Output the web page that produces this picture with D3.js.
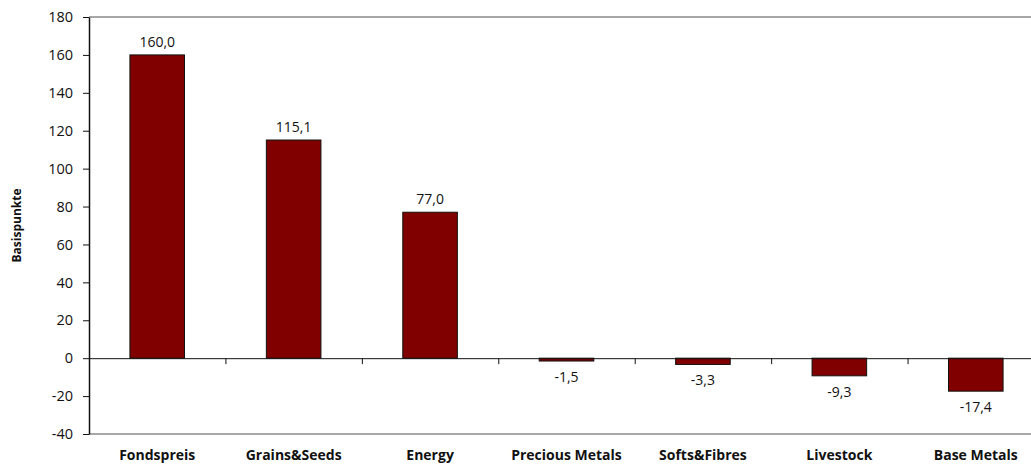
<!DOCTYPE html>
<html>
<head>
<meta charset="utf-8">
<script src="https://cdn.jsdelivr.net/npm/d3@7"></script>
<style>
    body { margin: 0; background: #fff; }
    svg text { font-family: "Open Sans", Lato, sans-serif; fill: #111; }
</style>
</head>
<body>
<div id="chart"></div>
<script>
const categories = ['Fondspreis', 'Grains&Seeds', 'Energy', 'Precious Metals', 'Softs&Fibres', 'Livestock', 'Base Metals'];
const values = [160.0, 115.1, 77.0, -1.5, -3.3, -9.3, -17.4];
const yTicks = [-40, -20, 0, 20, 40, 60, 80, 100, 120, 140, 160, 180];

const width = 1031, height = 465;
const margin = { top: 17, left: 89, bottom: 31 };
const plotRight = 1044; // plot area runs past the window edge

const svg = d3.select('#chart').append('svg')
    .attr('width', width)
    .attr('height', height);

const y = d3.scaleLinear()
    .domain([-40, 180])
    .range([height - margin.bottom, margin.top]);

const x = d3.scaleBand()
    .domain(categories)
    .range([margin.left, plotRight])
    .paddingInner(0.6)
    .paddingOuter(0.3);

// category boundaries for the tick marks on the zero line
const xIdx = d3.scaleLinear()
    .domain([0, categories.length])
    .range([margin.left, plotRight]);

// top and bottom border of the plot area
svg.append('g')
    .selectAll('line')
    .data([180, -40])
    .join('line')
    .attr('x1', margin.left)
    .attr('x2', plotRight)
    .attr('y1', d => y(d))
    .attr('y2', d => y(d))
    .attr('stroke', '#8a8a8a')
    .attr('stroke-width', 1.5);

// bars
svg.append('g')
    .selectAll('rect')
    .data(values)
    .join('rect')
    .attr('x', (d, i) => x(categories[i]))
    .attr('width', x.bandwidth())
    .attr('y', d => y(Math.max(0, d)))
    .attr('height', d => Math.abs(y(d) - y(0)))
    .attr('fill', '#800000')
    .attr('stroke', '#111')
    .attr('stroke-width', 1);

// value labels
svg.append('g')
    .selectAll('text')
    .data(values)
    .join('text')
    .attr('x', (d, i) => x(categories[i]) + x.bandwidth() / 2)
    .attr('y', d => d >= 0 ? y(d) - 8 : y(d) + 21)
    .attr('text-anchor', 'middle')
    .attr('font-size', 14)
    .text(d => d3.format('.1f')(d).replace('.', ',').replace('−', '-'));

// y axis
const yAxis = svg.append('g')
    .attr('transform', `translate(${margin.left},0)`)
    .call(d3.axisLeft(y).tickValues(yTicks).tickSize(6).tickPadding(10).tickSizeOuter(0)
        .tickFormat(d => d < 0 ? '-' + Math.abs(d) : d));
yAxis.select('.domain').attr('stroke', '#111').attr('stroke-width', 1.5);
yAxis.selectAll('.tick line').attr('stroke', '#111');
yAxis.selectAll('.tick text').attr('font-size', 14.5).attr('font-family', '"Open Sans", sans-serif').attr('fill', '#111');

// zero line with category ticks
const xAxis = svg.append('g')
    .attr('transform', `translate(0,${y(0)})`)
    .call(d3.axisBottom(xIdx).ticks(categories.length).tickSize(6).tickSizeOuter(0).tickFormat(''));
xAxis.select('.domain').attr('stroke', '#111');
xAxis.selectAll('.tick line').attr('stroke', '#111');

// category labels
svg.append('g')
    .selectAll('text')
    .data(categories)
    .join('text')
    .attr('x', d => x(d) + x.bandwidth() / 2)
    .attr('y', 460)
    .attr('text-anchor', 'middle')
    .attr('font-size', 14)
    .attr('font-weight', 'bold')
    .text(d => d);

// y axis title
svg.append('text')
    .attr('transform', `translate(21,${(y(180) + y(-40)) / 2}) rotate(-90)`)
    .attr('text-anchor', 'middle')
    .attr('font-size', 12)
    .attr('font-weight', 'bold')
    .text('Basispunkte');
</script>
</body>
</html>
